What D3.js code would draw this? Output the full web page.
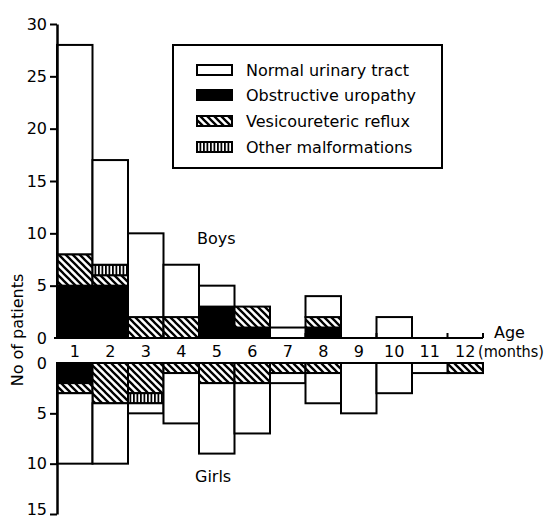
<!DOCTYPE html>
<html>
<head>
<meta charset="utf-8">
<script src="https://d3js.org/d3.v7.min.js"></script>
<style>
  body { margin: 0; background: #fff; }
  text { font-family: 'DejaVu Sans', sans-serif; fill: #000; }
</style>
</head>
<body>
<svg width="548" height="522"></svg>
<script>
// months along the x axis
const months = [1, 2, 3, 4, 5, 6, 7, 8, 9, 10, 11, 12];

// boys, stacked upward: obstructive, reflux, other, normal
const boysObstructive = [5, 5, 0, 0, 3, 1, 0, 1, 0, 0, 0, 0];
const boysReflux      = [3, 1, 2, 2, 0, 2, 0, 1, 0, 0, 0, 0];
const boysOther       = [0, 1, 0, 0, 0, 0, 0, 0, 0, 0, 0, 0];
const boysNormal      = [20, 10, 8, 5, 2, 0, 1, 2, 0, 2, 0, 0];

// girls, stacked downward in the same order
const girlsObstructive = [2, 0, 0, 0, 0, 0, 0, 0, 0, 0, 0, 0];
const girlsReflux      = [1, 4, 3, 1, 2, 2, 1, 1, 0, 0, 0, 1];
const girlsOther       = [0, 0, 1, 0, 0, 0, 0, 0, 0, 0, 0, 0];
const girlsNormal      = [7, 6, 1, 5, 7, 5, 1, 3, 5, 3, 1, 0];

const categories = ['Obstructive uropathy', 'Vesicoureteric reflux', 'Other malformations', 'Normal urinary tract'];
const legendOrder = ['Normal urinary tract', 'Obstructive uropathy', 'Vesicoureteric reflux', 'Other malformations'];
const boysTicks = [0, 5, 10, 15, 20, 25, 30];
const girlsTicks = [0, 5, 10, 15];

const fills = {
  'Normal urinary tract': '#fff',
  'Obstructive uropathy': '#000',
  'Vesicoureteric reflux': 'url(#hatch)',
  'Other malformations': 'url(#vstripe)'
};

const svg = d3.select('svg');

// patterns
const defs = svg.append('defs');
const hatch = defs.append('pattern').attr('id', 'hatch')
  .attr('patternUnits', 'userSpaceOnUse').attr('width', 7).attr('height', 7);
hatch.append('rect').attr('width', 7).attr('height', 7).attr('fill', '#fff');
hatch.append('path').attr('d', 'M-2,-2L9,9M-2,5L2,9M5,-2L9,2')
  .attr('stroke', '#000').attr('stroke-width', 2.3);
const vs = defs.append('pattern').attr('id', 'vstripe')
  .attr('patternUnits', 'userSpaceOnUse').attr('width', 3.5).attr('height', 4);
vs.append('rect').attr('width', 3.5).attr('height', 4).attr('fill', '#fff');
vs.append('rect').attr('width', 1.8).attr('height', 4).attr('fill', '#000');

const x = d3.scaleBand().domain(months).range([57, 483]).padding(0);
const yBoys = d3.scaleLinear().domain([0, 30]).range([338, 24]);
const yGirls = d3.scaleLinear().domain([0, 15]).range([363, 514]);

function stackRows(series) {
  return months.map((m, i) => {
    const row = { month: m };
    categories.forEach((c, k) => { row[c] = series[k][i]; });
    return row;
  });
}

const stack = d3.stack().keys(categories);
const boysStack = stack(stackRows([boysObstructive, boysReflux, boysOther, boysNormal]));
const girlsStack = stack(stackRows([girlsObstructive, girlsReflux, girlsOther, girlsNormal]));

function drawBars(layers, y, cls) {
  const g = svg.append('g').attr('class', cls);
  layers.forEach(layer => {
    g.selectAll(null)
      .data(layer.filter(d => d[1] > d[0]))
      .enter().append('rect')
      .attr('x', d => x(d.data.month))
      .attr('width', x.bandwidth())
      .attr('y', d => Math.min(y(d[0]), y(d[1])))
      .attr('height', d => Math.abs(y(d[1]) - y(d[0])))
      .attr('fill', fills[layer.key])
      .attr('stroke', '#000')
      .attr('stroke-width', 2);
  });
}

drawBars(boysStack, yBoys, 'boys');
drawBars(girlsStack, yGirls, 'girls');

// baselines
svg.append('line').attr('x1', 54).attr('x2', 483).attr('y1', yBoys(0)).attr('y2', yBoys(0))
  .attr('stroke', '#000').attr('stroke-width', 2);
svg.append('line').attr('x1', 57).attr('x2', 483).attr('y1', yGirls(0)).attr('y2', yGirls(0))
  .attr('stroke', '#000').attr('stroke-width', 2);
// small ticks at band edges on the boys baseline
svg.append('g').selectAll('line')
  .data(months.concat([13]))
  .enter().append('line')
  .attr('x1', d => d === 13 ? 483 : x(d)).attr('x2', d => d === 13 ? 483 : x(d))
  .attr('y1', yBoys(0)).attr('y2', yBoys(0) - 5)
  .attr('stroke', '#000').attr('stroke-width', 2);

// axes
const axB = svg.append('g').attr('transform', 'translate(57,0)')
  .call(d3.axisLeft(yBoys).tickValues(boysTicks).tickSize(7).tickPadding(3).tickSizeOuter(0));
const axG = svg.append('g').attr('transform', 'translate(57,0)')
  .call(d3.axisLeft(yGirls).tickValues(girlsTicks).tickSize(7).tickPadding(3).tickSizeOuter(0));
[axB, axG].forEach(a => {
  a.select('.domain').attr('stroke-width', 2.5);
  a.selectAll('.tick line').attr('stroke-width', 2);
  a.selectAll('.tick text').style('font-size', '16px').style('font-family', 'DejaVu Sans, sans-serif');
});
axB.selectAll('.tick').filter(d => d === 0).select('line').remove();
axG.selectAll('.tick').filter(d => d === 0).select('line').remove();
// keep the bottom label inside the window
axG.selectAll('.tick').filter(d => d === 15).select('text').attr('dy', '0.05em');

// month labels
svg.append('g').selectAll('text')
  .data(months)
  .enter().append('text')
  .attr('x', d => x(d) + x.bandwidth() / 2)
  .attr('y', 357)
  .attr('text-anchor', 'middle')
  .style('font-size', '16px')
  .text(d => d);

svg.append('text').attr('x', 494).attr('y', 338).style('font-size', '16px').text('Age');
svg.append('text').attr('x', 478).attr('y', 357).style('font-size', '15px')
  .attr('textLength', 66).attr('lengthAdjust', 'spacingAndGlyphs').text('(months)');

svg.append('text')
  .attr('transform', 'translate(23,330) rotate(-90)')
  .attr('text-anchor', 'middle')
  .style('font-size', '16px')
  .text('No of patients');

svg.append('text').attr('x', 197).attr('y', 244).style('font-size', '16px').text('Boys');
svg.append('text').attr('x', 195).attr('y', 482).style('font-size', '16px').text('Girls');

// legend
const legend = svg.append('g');
legend.append('rect').attr('x', 173).attr('y', 45).attr('width', 269).attr('height', 123)
  .attr('fill', '#fff').attr('stroke', '#000').attr('stroke-width', 2);
const rowsY = [70, 95, 121, 147];
legendOrder.forEach((c, i) => {
  legend.append('rect').attr('x', 197).attr('y', rowsY[i] - 5).attr('width', 35).attr('height', 10)
    .attr('fill', fills[c]).attr('stroke', '#000').attr('stroke-width', 2);
  legend.append('text').attr('x', 246).attr('y', rowsY[i] + 6).style('font-size', '16px').text(c);
});
</script>
</body>
</html>
